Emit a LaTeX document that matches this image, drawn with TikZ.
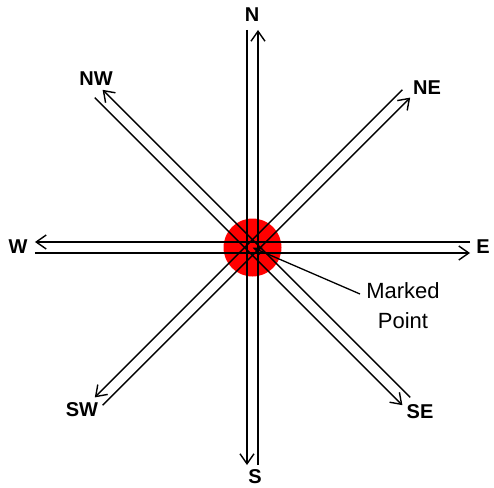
\documentclass[tikz,border=0pt]{standalone}
\usepackage{fontspec}
\setmainfont{Liberation Sans}
\usetikzlibrary{arrows.meta}

\begin{document}
\begin{tikzpicture}[x=1pt, y=1pt,
        dirline/.style={line width=1.4pt, -{Straight Barb[length=10pt,width=14pt]}},
        dirlabel/.style={font=\bfseries\fontsize{20}{20}\selectfont, inner sep=0pt}]
        \useasboundingbox (-252.5,-239.5) rectangle (241.5,247.5);
        \node[circle, fill=red, minimum size=58pt, inner sep=0pt] (point) at (0,0) {};
        \foreach \ang/\dir in {90/n, 45/ne, 0/e, 315/se, 270/s, 225/sw, 180/w, 135/nw} {
            \begin{scope}[rotate=\ang]
                \coordinate (from\dir) at (-217.5,-5.5);
                \coordinate (to\dir) at (217.5,-5.5);
            \end{scope}
            \draw[dirline] (from\dir) -- (to\dir);
        }
        \node[dirlabel] (lbln) at (-0.5,232.5) {N};
        \node[dirlabel] (lblne) at (174.5,159.5) {NE};
        \node[dirlabel] (lble) at (230.5,0.5) {E};
        \node[dirlabel] (lblse) at (167.5,-164.5) {SE};
        \node[dirlabel] (lbls) at (2.5,-229) {S};
        \node[dirlabel] (lblsw) at (-170.5,-162.5) {SW};
        \node[dirlabel] (lblw) at (-234.5,0.5) {W};
        \node[dirlabel] (lblnw) at (-156.5,168.5) {NW};
        \node[align=center, font=\fontsize{22}{30}\selectfont, inner sep=0pt] (marked) at (150.5,-58.5) {Marked\\Point};
        \coordinate (lead) at (107.5,-46.5);
        \draw[line width=1.3pt, -{Stealth[length=10pt,width=8pt]}] (lead) -- (point.center);
    \end{tikzpicture}
\end{document}
